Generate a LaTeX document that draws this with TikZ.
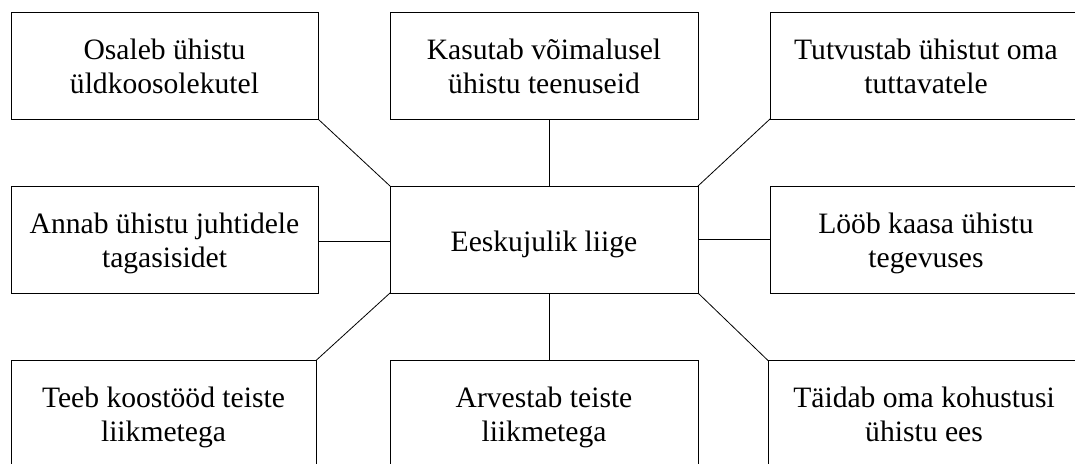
\documentclass[tikz,border=0pt]{standalone}
\usepackage{fontspec}
\setmainfont{Liberation Serif}
\begin{document}
\begin{tikzpicture}[x=1pt,y=-1pt,
  box/.style={draw, line width=0.9pt, inner sep=0pt, outer sep=0pt, minimum height=107pt},
  txt/.style={inner sep=0pt, align=center, font=\fontsize{29.6}{34}\selectfont},
  conn/.style={line width=0.8pt}]
\useasboundingbox (0,0) rectangle (1075,463);
\clip (0,0) rectangle (1075,463);
% boxes
\node[box, minimum width=307pt] (tl) at (164.5,65.5) {};
\node[box, minimum width=308pt] (tm) at (544,65.5) {};
\node[box, minimum width=312pt] (tr) at (926,65.5) {};
\node[box, minimum width=307pt] (ml) at (164.5,239.5) {};
\node[box, minimum width=308pt] (c) at (544,239.5) {};
\node[box, minimum width=312pt] (mr) at (926,239.5) {};
\node[box, minimum width=305pt] (bl) at (163.5,414) {};
\node[box, minimum width=308pt] (bm) at (544,414) {};
\node[box, minimum width=312pt] (br) at (924,414) {};
% texts
\node[txt] (tl-t) at ([yshift=-3.7pt]tl.center) {\strut Osaleb ühistu\\\strut üldkoosolekutel};
\node[txt] (tm-t) at ([yshift=-3.7pt]tm.center) {\strut Kasutab võimalusel\\\strut ühistu teenuseid};
\node[txt] (tr-t) at ([yshift=-3.7pt]tr.center) {\strut Tutvustab ühistut oma\\\strut tuttavatele};
\node[txt] (ml-t) at ([yshift=-3.7pt]ml.center) {\strut Annab ühistu juhtidele\\\strut tagasisidet};
\node[txt] (c-t) at ([yshift=-4.7pt]c.center) {\strut Eeskujulik liige};
\node[txt] (mr-t) at ([yshift=-3.7pt]mr.center) {\strut Lööb kaasa ühistu\\\strut tegevuses};
\node[txt] (bl-t) at ([yshift=-3.7pt]bl.center) {\strut Teeb koostööd teiste\\\strut liikmetega};
\node[txt] (bm-t) at ([yshift=-3.7pt]bm.center) {\strut Arvestab teiste\\\strut liikmetega};
\node[txt] (br-t) at ([yshift=-3.7pt]br.center) {\strut Täidab oma kohustusi\\\strut ühistu ees};
% connectors
\draw[conn] (tl.south east) -- (c.north west);
\draw[conn] (tr.south west) -- (c.north east);
\draw[conn] (bl.north east) -- (c.south west);
\draw[conn] (br.north west) -- (c.south east);
\draw[conn] ([xshift=5pt]tm.south) -- ([xshift=5pt]c.north);
\draw[conn] ([xshift=5pt]c.south) -- ([xshift=5pt]bm.north);
\draw[conn] ([yshift=-2pt]ml.east) -- ([yshift=-2pt]c.west);
\draw[conn] (c.east) -- (mr.west);
\end{tikzpicture}
\end{document}
